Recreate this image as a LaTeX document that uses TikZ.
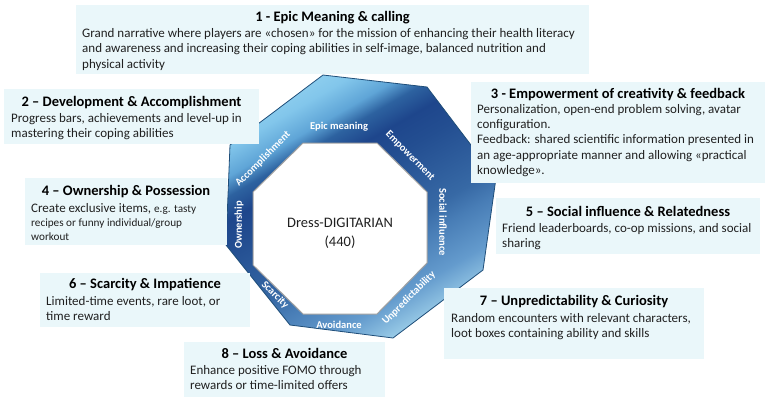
\documentclass[tikz,border=0pt]{standalone}
\usepackage{fontspec}
\setmainfont{Carlito}
\definecolor{panelbg}{RGB}{234,247,250}
\definecolor{bodyc}{RGB}{32,32,32}
\definecolor{rimc}{RGB}{31,78,121}
\definecolor{innerrim}{RGB}{160,160,160}
\definecolor{gA}{RGB}{140,205,238}
\definecolor{gB}{RGB}{130,198,235}
\definecolor{gC}{RGB}{95,165,215}
\definecolor{gD}{RGB}{45,98,160}
\definecolor{gE}{RGB}{30,70,140}
\definecolor{gF}{RGB}{35,78,145}
\definecolor{gG}{RGB}{55,105,165}
\definecolor{gH}{RGB}{72,125,182}
\definecolor{gI}{RGB}{100,155,205}
\definecolor{gJ}{RGB}{155,205,232}
\pgfdeclarehorizontalshading{octgrad}{100bp}{color(0bp)=(gA); color(25bp)=(gA); color(28bp)=(gB); color(32.75bp)=(gC); color(36bp)=(gD); color(40bp)=(gE); color(45bp)=(gF); color(57bp)=(gG); color(61bp)=(gH); color(68.5bp)=(gI); color(75bp)=(gJ); color(100bp)=(gJ)}
\tikzset{
  panel/.style={fill=panelbg, draw=none},
  head/.style={font=\fontsize{14.5}{17}\selectfont\bfseries, anchor=base, inner sep=0, text=black},
  bodytxt/.style={font=\fontsize{13}{15.5}\selectfont, anchor=base west, inner sep=0, text=bodyc},
  smalltxt/.style={font=\fontsize{11.2}{14}\selectfont, anchor=base west, inner sep=0, text=bodyc},
  band/.style={font=\fontsize{10.5}{12}\selectfont\bfseries, text=white, inner sep=0},
}
\newcommand\boxlines[5][]{%
  \foreach \t [count=\i] in {#5} {\node[bodytxt,#1] (#2-\i) at (#3, {#4+15.3*(\i-1)}) {\t};}}
\begin{document}
\begin{tikzpicture}[x=1pt,y=-1pt]
\useasboundingbox (0,0) rectangle (770,402);
% outer band vertices
\coordinate (o1) at (323,75);
\coordinate (o2) at (427,87);
\coordinate (o3) at (496,178);
\coordinate (o4) at (483,270);
\coordinate (o5) at (393,338);
\coordinate (o6) at (290,325);
\coordinate (o7) at (226,245);
\coordinate (o8) at (230,145);
% inner octagon vertices
\coordinate (i1) at (303,143);
\coordinate (i2) at (377,143);
\coordinate (i3) at (427,192);
\coordinate (i4) at (427,263);
\coordinate (i5) at (377,314);
\coordinate (i6) at (303,314);
\coordinate (i7) at (253,265);
\coordinate (i8) at (253,192);
\begin{scope}
  \clip (o1) -- (o2) -- (o3) -- (o4) -- (o5) -- (o6) -- (o7) -- (o8) -- cycle;
  \begin{scope}[transform canvas={rotate=-60}]
    \shade[shading=octgrad] (226,-900) rectangle (490,900);
  \end{scope}
\end{scope}
\draw[rimc, line width=0.8pt, line join=round] (o1) -- (o2) -- (o3) -- (o4) -- (o5) -- (o6) -- (o7) -- (o8) -- cycle;
\draw[innerrim, fill=white, line width=1pt] (i1) -- (i2) -- (i3) -- (i4) -- (i5) -- (i6) -- (i7) -- (i8) -- cycle;
% band labels
\node[band] (lepic) at (339,127) {Epic meaning};
\node[band, rotate=-45] (lemp) at (410,156) {Empowerment};
\node[band, rotate=-90] (lsoc) at (443,222) {Social influence};
\node[band, rotate=45] (lunp) at (409,298) {Unpredictability};
\node[band] (lavo) at (339,325) {Avoidance};
\node[band, rotate=-45] (lsca) at (275,295) {Scarcity};
\node[band, rotate=90] (lown) at (239,225) {Ownership};
\node[band, rotate=45] (lacc) at (263,159) {Accomplishment};
% core
\node[font=\fontsize{14.5}{19}\selectfont, align=center, text=bodyc, inner sep=0] (core) at (340,233) {Dress-DIGITARIAN\\(440)};
% box 1
\path[panel] (76,5) rectangle (589,74);
\node[head] (h1) at (332.5,21) {1 - Epic Meaning \& calling};
\boxlines{b1}{82}{37.5}{{Grand narrative where players are «chosen» for the mission of enhancing their health literacy},{and awareness and increasing their coping abilities in self-image, balanced nutrition and},{physical activity}}
% box 2
\path[panel] (4,89) rectangle (259,144);
\node[head] (h2) at (131.5,106.5) {2 – Development \& Accomplishment};
\boxlines{b2}{11}{122}{{Progress bars, achievements and level-up in},{mastering their coping abilities}}
% box 3
\path[panel] (471,82) rectangle (765,183);
\node[head] (h3) at (618,98) {3 - Empowerment of creativity \& feedback};
\boxlines{b3}{477}{113.3}{{Personalization, open-end problem solving, avatar},{configuration.},{Feedback: shared scientific information presented in},{an age-appropriate manner and allowing «practical},{knowledge».}}
% box 4
\path[panel] (25,178) rectangle (227,245);
\node[head] (h4) at (126,195.5) {4 – Ownership \& Possession};
\node[bodytxt] (b4-1) at (31,212) {Create exclusive items, {\fontsize{11.2}{14}\selectfont e.g. tasty}};
\node[smalltxt] (b4-2) at (31,226.5) {recipes or funny individual/group};
\node[smalltxt] (b4-3) at (31,240) {workout};
% box 5
\path[panel] (496,198) rectangle (760,254);
\node[head] (h5) at (628,216.5) {5 – Social influence \& Relatedness};
\boxlines{b5}{502}{232}{{Friend leaderboards, co-op missions, and social},{sharing}}
% box 6
\path[panel] (40,273) rectangle (250,327);
\node[head] (h6) at (145,288.5) {6 – Scarcity \& Impatience};
\boxlines{b6}{46}{305}{{Limited-time events, rare loot, or},{time reward}}
% box 7
\path[panel] (444,288) rectangle (704,359);
\node[head] (h7) at (574,305.5) {7 – Unpredictability \& Curiosity};
\boxlines{b7}{451}{322}{{Random encounters with relevant characters,},{loot boxes containing ability and skills}}
% box 8
\path[panel] (184,342) rectangle (385,397);
\node[head] (h8) at (284.5,358.5) {8 – Loss \& Avoidance};
\boxlines{b8}{190}{374}{{Enhance positive FOMO through},{rewards or time-limited offers}}
\end{tikzpicture}
\end{document}
